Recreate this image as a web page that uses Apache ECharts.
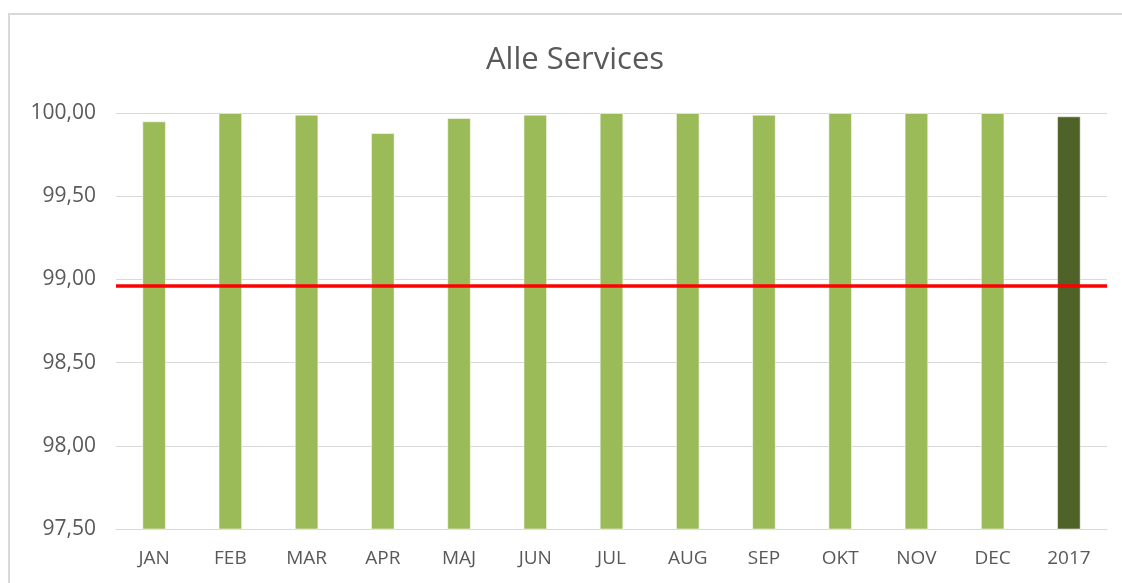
<!DOCTYPE html>
<html>
<head>
<meta charset="utf-8">
<script src="https://cdn.jsdelivr.net/npm/echarts@6/dist/echarts.min.js"></script>
<style>
  html, body { margin: 0; padding: 0; background: #fff; }
  #chart { width: 1122px; height: 583px; }
</style>
</head>
<body>
<div id="chart"></div>
<script>
  var categories = ['JAN', 'FEB', 'MAR', 'APR', 'MAJ', 'JUN', 'JUL', 'AUG', 'SEP', 'OKT', 'NOV', 'DEC', '2017'];
  var values = [99.95, 100.00, 99.99, 99.88, 99.97, 99.99, 100.00, 100.00, 99.99, 100.00, 100.00, 100.00, 99.98];
  var target = 98.96;
  var yMin = 97.5, yMax = 100, yStep = 0.5;

  var lightGreen = '#9bbb59';
  var darkGreen = '#4f6228';
  var textColor = '#595959';
  var fontFamily = '"Open Sans", "Noto Sans", sans-serif';

  var barData = values.map(function(v, i) {
    return {
      value: v,
      itemStyle: { color: i === values.length - 1 ? darkGreen : lightGreen }
    };
  });

  var option = {
    animation: false,
    backgroundColor: '#fff',
    textStyle: { fontFamily: fontFamily },
    graphic: [{
      type: 'rect',
      shape: { x: 9, y: 14, width: 1200, height: 700 },
      style: { fill: 'none', stroke: '#d9d9d9', lineWidth: 2 },
      silent: true
    }],
    title: {
      text: 'Alle Services',
      left: 481,
      top: 40,
      textStyle: { fontSize: 31, fontWeight: 'normal', color: textColor, fontFamily: fontFamily }
    },
    grid: { left: 116, right: 15, top: 113, bottom: 54 },
    xAxis: {
      type: 'category',
      data: categories,
      axisLine: { lineStyle: { color: '#d9d9d9', width: 1 } },
      axisTick: { show: false },
      axisLabel: { color: textColor, fontSize: 19, margin: 20, fontFamily: fontFamily }
    },
    yAxis: {
      type: 'value',
      min: yMin,
      max: yMax,
      interval: yStep,
      axisLine: { show: false },
      axisTick: { show: false },
      splitLine: { lineStyle: { color: '#d9d9d9', width: 1 } },
      axisLabel: {
        color: textColor,
        fontSize: 21,
        margin: 20,
        fontFamily: fontFamily,
        formatter: function(v) { return v.toFixed(2).replace('.', ','); }
      }
    },
    series: [{
      type: 'bar',
      data: barData,
      barWidth: '31%',
      itemStyle: { borderColor: 'rgba(255,255,255,0.5)', borderWidth: 1 },
      markLine: {
        silent: true,
        symbol: 'none',
        label: { show: false },
        lineStyle: { color: '#ff0000', width: 3.5, type: 'solid' },
        data: [{ yAxis: target }]
      }
    }]
  };

  var chart = echarts.init(document.getElementById('chart'));
  chart.setOption(option);
</script>
</body>
</html>
